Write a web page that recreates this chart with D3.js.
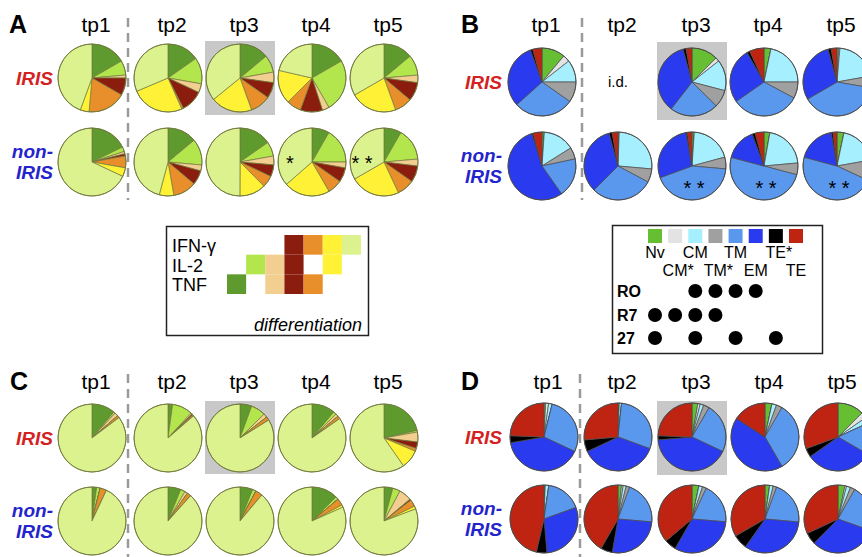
<!DOCTYPE html>
<html>
<head>
<meta charset="utf-8">
<script src="https://cdn.jsdelivr.net/npm/d3@7"></script>
<style>
  body { margin: 0; background: #fff; }
  text { font-family: Arial, "Liberation Sans", sans-serif; }
</style>
</head>
<body>
<svg width="862" height="557"></svg>
<script>
const svg = d3.select('svg')
const radius = 34

const timepoints = ['tp1', 'tp2', 'tp3', 'tp4', 'tp5']

// functional subsets, clockwise from 12 o'clock
const cytokineSubsets = ['TNF', 'IL-2', 'IL-2 TNF', 'IFN IL-2 TNF', 'IFN TNF', 'IFN IL-2', 'IFN']
const cytokineColors = ['#5f9a2e', '#b3e64c', '#f2cf91', '#8a1d0e', '#e88f2c', '#fff236', '#dcf28f']

// memory subsets, clockwise from 12 o'clock
const memorySubsets = ['Nv', 'CM*', 'CM', 'TM*', 'TM', 'EM', 'TE*', 'TE']
const memoryColors = ['#66bf33', '#e3e3e3', '#a6efff', '#a0a0a0', '#5a98ee', '#2a3bef', '#000000', '#bf2412']

// % of cells, one row per timepoint
const panelA_iris = [
	[16.7, 6.9, 1.4, 8.3, 18.1, 4.2, 44.4],
	[15.3, 12.5, 4.2, 10.6, 0.8, 25.3, 31.4],
	[13.9, 8.3, 5.0, 7.5, 9.7, 19.7, 35.8],
	[16.7, 25.0, 3.3, 10.6, 6.9, 16.1, 21.4],
	[13.9, 9.7, 3.6, 8.9, 8.3, 22.2, 33.3],
]
const panelA_nonIris = [
	[17.8, 2.2, 1.1, 1.1, 5.6, 4.2, 68.1],
	[13.9, 12.5, 2.8, 6.9, 11.1, 6.9, 45.8],
	[15.3, 6.9, 4.2, 5.6, 5.6, 12.5, 50.0],
	[8.3, 16.7, 2.8, 6.9, 6.9, 21.9, 36.4],
	[8.3, 15.3, 3.3, 7.8, 8.3, 23.6, 33.3],
]
const panelC_iris = [
	[11.1, 0.8, 1.7, 0, 1.1, 0, 85.3],
	[2.2, 9.7, 0.6, 0.6, 0.6, 0, 86.4],
	[5.6, 6.9, 1.9, 0, 1.7, 0, 83.9],
	[11.1, 1.4, 1.4, 0, 1.4, 0, 84.7],
	[21.4, 0.8, 4.7, 3.1, 1.4, 8.9, 59.7],
]
const panelC_nonIris = [
	[2.2, 1.7, 0, 0, 3.1, 0, 93.1],
	[6.1, 2.2, 1.4, 0, 1.9, 0, 88.3],
	[6.1, 1.7, 0, 0, 3.3, 0, 88.9],
	[12.5, 1.4, 0, 0, 3.3, 1.1, 81.7],
	[4.2, 3.6, 6.1, 0.6, 3.3, 1.4, 80.8],
]
const panelB_iris = [
	[11.1, 3.3, 10.6, 9.7, 28.6, 31.1, 1.1, 4.4],
	null,
	[12.5, 1.9, 14.7, 8.3, 23.1, 35.3, 1.4, 2.8],
	[3.3, 0, 21.7, 7.8, 32.5, 26.4, 1.4, 6.9],
	[0.8, 0.6, 20.8, 5.6, 38.9, 29.2, 1.4, 2.8],
]
const panelB_nonIris = [
	[1.1, 0, 15.0, 5.6, 18.6, 55.0, 0.6, 4.2],
	[0.6, 0, 25.8, 6.4, 29.7, 33.3, 1.4, 2.8],
	[1.1, 0, 19.7, 5.6, 43.1, 27.8, 0.6, 2.2],
	[2.8, 0, 20.8, 5.6, 50.0, 15.3, 1.4, 4.2],
	[3.3, 0, 18.9, 9.7, 47.2, 18.1, 0.8, 1.9],
]
const panelD_iris = [
	[0.8, 1.4, 1.7, 0, 28.1, 40.3, 3.3, 24.4],
	[0.6, 0, 1.1, 0, 28.9, 37.5, 5.6, 26.4],
	[2.8, 1.1, 1.7, 2.8, 23.6, 41.7, 1.9, 24.4],
	[3.3, 0, 2.2, 2.8, 33.3, 42.5, 0, 15.8],
	[12.5, 2.8, 2.8, 0, 15.3, 31.9, 4.2, 30.6],
]
const panelD_nonIris = [
	[0.6, 0, 1.7, 0, 17.2, 29.2, 5.0, 46.4],
	[1.7, 0.8, 1.4, 1.7, 20.8, 26.4, 5.6, 41.7],
	[3.3, 0, 1.7, 1.9, 19.4, 31.9, 5.6, 36.1],
	[2.2, 0, 1.7, 1.7, 20.8, 33.3, 6.9, 33.3],
	[3.3, 0.8, 1.9, 2.2, 22.2, 31.9, 5.6, 31.9],
]

// significance marks (non-IRIS row)
const starsA = ['', '', '', '*', '* *']
const starsB = ['', '', '* *', '* *', '* *']

// legend content
const cytokineRows = ['IFN-γ', 'IL-2', 'TNF']
const cytokineMatrix = [
	[0, 0, 1], [0, 1, 0], [0, 1, 1], [1, 1, 1], [1, 0, 1], [1, 1, 0], [1, 0, 0]
]
const markerRows = ['RO', 'R7', '27']
const markerPositive = [
	['CM', 'TM*', 'TM', 'EM'],
	['Nv', 'CM*', 'CM', 'TM*'],
	['Nv', 'CM', 'TM', 'TE*'],
]

const cytoColor = d3.scaleOrdinal(cytokineSubsets, cytokineColors)
const memColor = d3.scaleOrdinal(memorySubsets, memoryColors)

const pie = d3.pie().sort(null).value(d => d.v)
const arc = d3.arc().innerRadius(0).outerRadius(radius)

const drawPanel = (cfg) => {
	const g = svg.append('g')
	const x = d3.scaleOrdinal(timepoints, cfg.xs)
	const y = d3.scaleOrdinal(['IRIS', 'non-IRIS'], cfg.rowY)

	// highlight box behind tp3
	g.append('rect')
		.attr('x', x('tp3') - 35).attr('y', cfg.box[0])
		.attr('width', 70).attr('height', cfg.box[1] - cfg.box[0])
		.attr('fill', '#c8c8c8')

	g.append('line')
		.attr('x1', cfg.dashX).attr('x2', cfg.dashX)
		.attr('y1', cfg.dashY[0]).attr('y2', cfg.dashY[1])
		.attr('stroke', '#9a9a9a').attr('stroke-width', 2.5)
		.attr('stroke-dasharray', '9,6')

	g.append('text')
		.attr('x', cfg.letterX).attr('y', cfg.titleY + 1)
		.style('font-size', '25px').style('font-weight', 'bold')
		.text(cfg.letter)

	g.selectAll('.tp')
		.data(timepoints)
		.enter().append('text')
		.attr('x', d => x(d) + 4).attr('y', cfg.titleY)
		.attr('text-anchor', 'middle')
		.style('font-size', '21px')
		.text(d => d)

	const rowLabel = g.append('g')
		.style('font-size', '19px').style('font-weight', 'bold').style('font-style', 'italic')
		.attr('text-anchor', 'end')
	rowLabel.append('text')
		.attr('x', cfg.labelX).attr('y', y('IRIS') + 7)
		.attr('fill', '#d42222').text('IRIS')
	rowLabel.append('text')
		.attr('x', cfg.labelX).attr('y', y('non-IRIS') - 4)
		.attr('fill', '#2424cc').text('non-')
	rowLabel.append('text')
		.attr('x', cfg.labelX).attr('y', y('non-IRIS') + 17)
		.attr('fill', '#2424cc').text('IRIS')

	const rows = [['IRIS', cfg.iris], ['non-IRIS', cfg.nonIris]]
	rows.forEach(([row, values]) => {
		values.forEach((vals, i) => {
			const tp = timepoints[i]
			const cx = x(tp), cy = y(row)
			if (!vals) {
				g.append('text')
					.attr('x', cx).attr('y', cy + 5)
					.attr('text-anchor', 'middle')
					.style('font-size', '15px')
					.text('i.d.')
				return
			}
			const pg = g.append('g').attr('transform', `translate(${cx},${cy})`)
			pg.selectAll('path')
				.data(pie(vals.map((v, k) => ({ k: cfg.keys[k], v }))))
				.enter().append('path')
				.attr('d', arc)
				.attr('fill', d => cfg.color(d.data.k))
				.attr('stroke', cfg.stroke)
				.attr('stroke-width', 0.7)
			pg.append('circle')
				.attr('r', radius)
				.attr('fill', 'none')
				.attr('stroke', cfg.stroke)
				.attr('stroke-width', 0.9)
		})
	})

	g.selectAll('.star')
		.data(cfg.stars)
		.enter().append('text')
		.attr('x', (d, i) => x(timepoints[i]) + cfg.starOff[0])
		.attr('y', y('non-IRIS') + cfg.starOff[1])
		.attr('text-anchor', 'middle')
		.style('font-size', '20px')
		.text(d => d)
}

drawPanel({
	letter: 'A', letterX: 9, titleY: 32,
	xs: [92, 168, 240, 312, 384], rowY: [78, 162],
	box: [41, 115], dashX: 128, dashY: [18, 200], labelX: 53,
	iris: panelA_iris, nonIris: panelA_nonIris,
	keys: cytokineSubsets, color: cytoColor, stroke: '#70783c',
	stars: starsA, starOff: [-22, 8]
})
drawPanel({
	letter: 'B', letterX: 461, titleY: 32,
	xs: [542, 618, 692, 764, 837], rowY: [82, 166],
	box: [42, 120], dashX: 582, dashY: [18, 200], labelX: 502,
	iris: panelB_iris, nonIris: panelB_nonIris,
	keys: memorySubsets, color: memColor, stroke: '#4a4a4a',
	stars: starsB, starOff: [2, 29]
})
drawPanel({
	letter: 'C', letterX: 10, titleY: 389,
	xs: [92, 168, 240, 312, 384], rowY: [438, 521],
	box: [401, 474], dashX: 128, dashY: [374, 557], labelX: 53,
	iris: panelC_iris, nonIris: panelC_nonIris,
	keys: cytokineSubsets, color: cytoColor, stroke: '#70783c',
	stars: ['', '', '', '', ''], starOff: [0, 0]
})
drawPanel({
	letter: 'D', letterX: 461, titleY: 389,
	xs: [544, 618, 692, 765, 838], rowY: [437, 519],
	box: [401, 475], dashX: 580, dashY: [374, 557], labelX: 502,
	iris: panelD_iris, nonIris: panelD_nonIris,
	keys: memorySubsets, color: memColor, stroke: '#4a4a4a',
	stars: ['', '', '', '', ''], starOff: [0, 0]
})

/* cytokine legend */
const legA = svg.append('g')
legA.append('rect')
	.attr('x', 166.5).attr('y', 226.5).attr('width', 202).attr('height', 109)
	.attr('fill', 'none').attr('stroke', '#222').attr('stroke-width', 1.5)

const colX = d3.scaleBand(cytokineSubsets, [227, 361])
const rowY = d3.scaleBand(cytokineRows, [235, 294])

legA.selectAll('.lab')
	.data(cytokineRows)
	.enter().append('text')
	.attr('x', 172).attr('y', d => rowY(d) + rowY.bandwidth() / 2 + 7)
	.style('font-size', '18px')
	.text(d => d)

cytokineMatrix.forEach((col, ci) => {
	legA.selectAll(null)
		.data(col.map((on, ri) => ({ on, r: cytokineRows[ri] })).filter(d => d.on))
		.enter().append('rect')
		.attr('x', colX(cytokineSubsets[ci]))
		.attr('y', d => rowY(d.r))
		.attr('width', colX.bandwidth())
		.attr('height', rowY.bandwidth())
		.attr('fill', cytoColor(cytokineSubsets[ci]))
})

legA.append('text')
	.attr('x', 362).attr('y', 331)
	.attr('text-anchor', 'end')
	.style('font-size', '18px').style('font-style', 'italic')
	.text('differentiation')

/* memory legend */
const legB = svg.append('g')
legB.append('rect')
	.attr('x', 612.5).attr('y', 225.5).attr('width', 210).attr('height', 128)
	.attr('fill', 'none').attr('stroke', '#222').attr('stroke-width', 1.5)

const mx = d3.scalePoint(memorySubsets, [655, 796])

legB.selectAll('.sq')
	.data(memorySubsets)
	.enter().append('rect')
	.attr('x', d => mx(d) - 7).attr('y', 229)
	.attr('width', 14).attr('height', 14)
	.attr('fill', d => memColor(d))

legB.selectAll('.ml')
	.data(memorySubsets)
	.enter().append('text')
	.attr('x', (d, i) => mx(d) + (d.endsWith('*') ? 3 : 0))
	.attr('y', (d, i) => i % 2 === 0 ? 258 : 276)
	.attr('text-anchor', 'middle')
	.style('font-size', '16px')
	.text(d => d)

const markerY = d3.scaleOrdinal(markerRows, [291, 315, 338])

legB.selectAll('.mr')
	.data(markerRows)
	.enter().append('text')
	.attr('x', 617).attr('y', d => markerY(d) + 6)
	.style('font-size', '16px').style('font-weight', 'bold')
	.text(d => d)

markerRows.forEach((r, ri) => {
	legB.selectAll(null)
		.data(markerPositive[ri])
		.enter().append('circle')
		.attr('cx', d => mx(d)).attr('cy', markerY(r))
		.attr('r', 7)
		.attr('fill', '#000')
})
</script>
</body>
</html>
